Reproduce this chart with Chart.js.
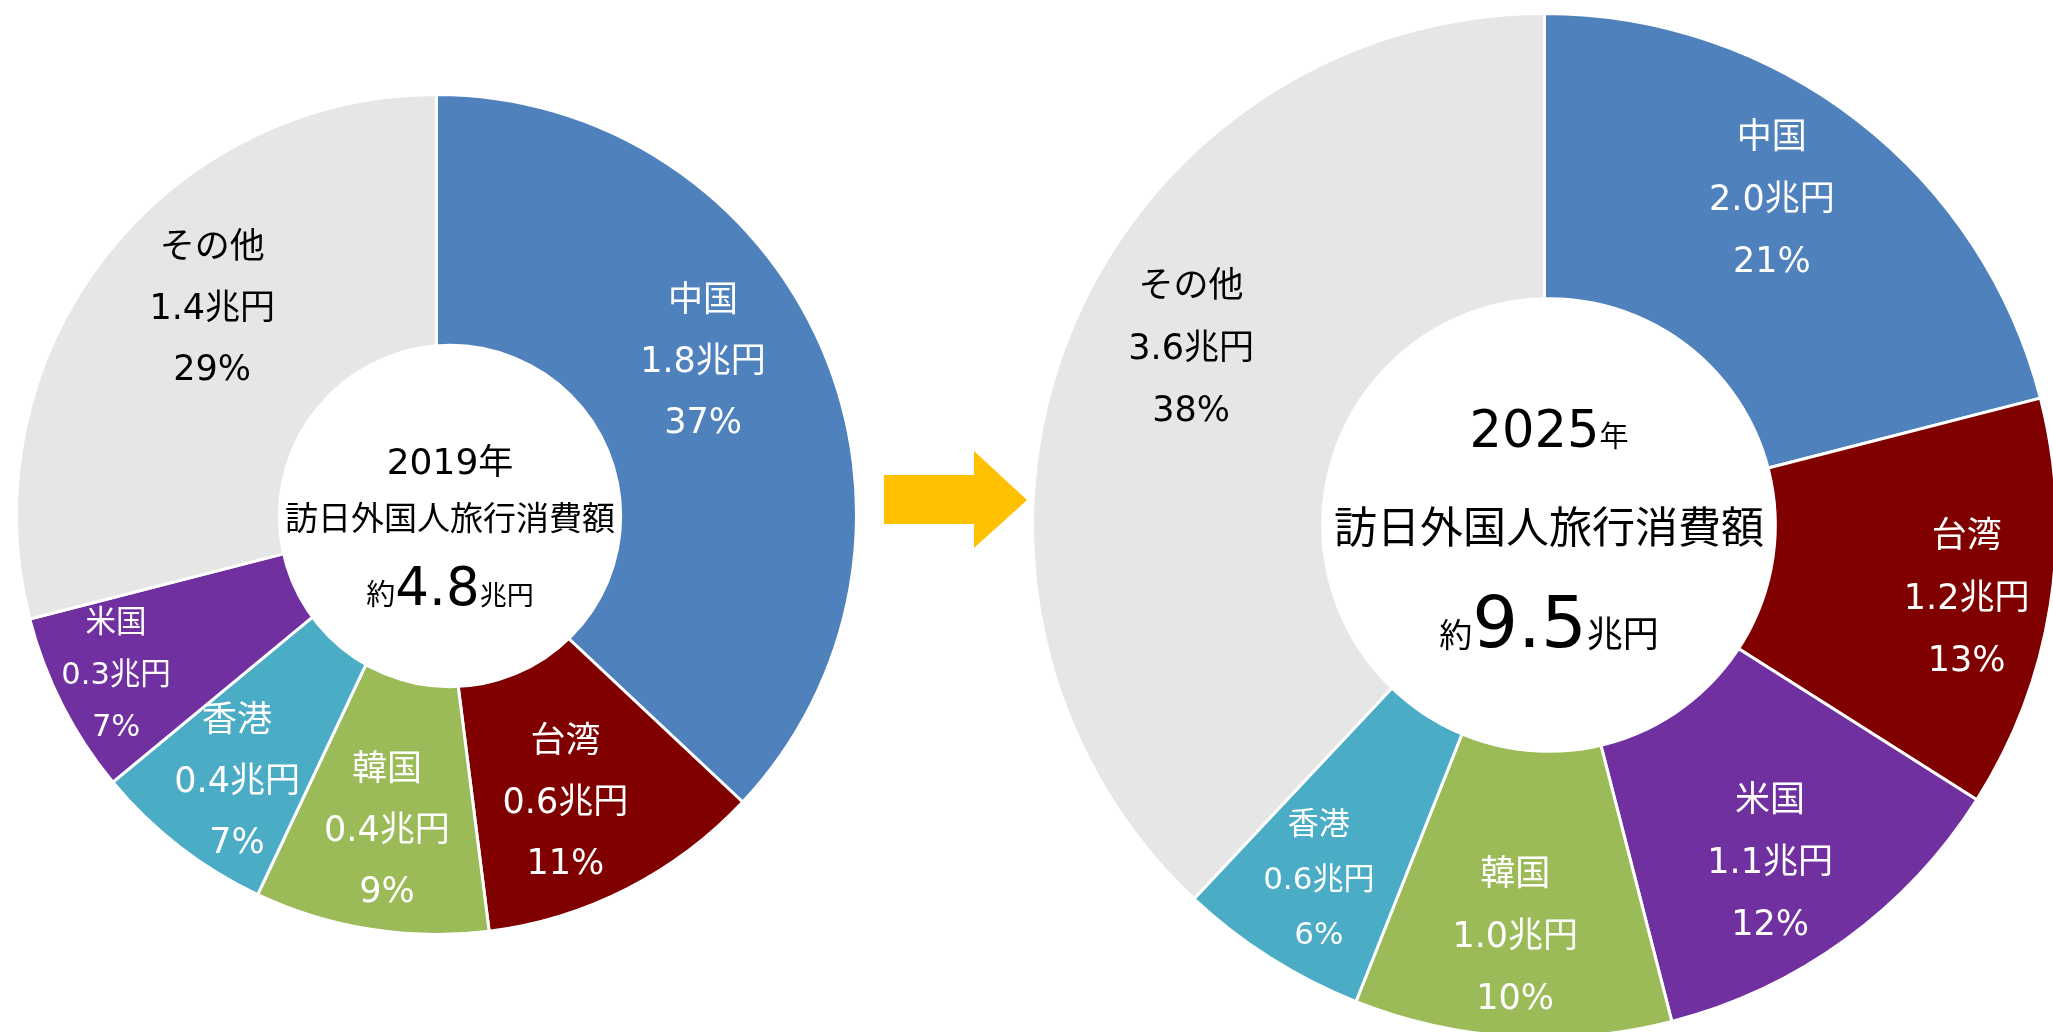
<!DOCTYPE html>
<html lang="ja">
<head>
<meta charset="utf-8">
<title>訪日外国人旅行消費額 2019年 → 2025年</title>
<script src="https://cdn.jsdelivr.net/npm/chart.js@4.4.1/dist/chart.umd.min.js"></script>
<style>
  html, body { margin: 0; padding: 0; background: #fff; }
  body { width: 2053px; height: 1032px; position: relative; overflow: hidden; }
  canvas { position: absolute; }
  #c2019 { left: 15px; top: 93px; }
  #c2025 { left: 1031px; top: 12px; }
  #arrow { position: absolute; left: 0; top: 0; pointer-events: none; }
</style>
</head>
<body>
<canvas id="c2019" width="843" height="843"></canvas>
<svg id="arrow" width="2053" height="1032">
  <polygon points="884,475 974,475 974,451 1027,500 974,548 974,524 884,524" fill="#FFC000"/>
</svg>
<canvas id="c2025" width="1027" height="1027"></canvas>

<script>
// ---- data ----
const categories2019 = ['中国', '台湾', '韓国', '香港', '米国', 'その他'];
const amounts2019 = [1.8, 0.6, 0.4, 0.4, 0.3, 1.4];   // 兆円
const shares2019 = [37, 11, 9, 7, 7, 29];              // %
const total2019 = 4.8;

const categories2025 = ['中国', '台湾', '米国', '韓国', '香港', 'その他'];
const amounts2025 = [2.0, 1.2, 1.1, 1.0, 0.6, 3.6];
const shares2025 = [21, 13, 12, 10, 6, 38];
const total2025 = 9.5;

// ---- styling ----
const FONT = '"DejaVu Sans", "Noto Sans CJK JP", sans-serif';
const COLORS = {
    '中国': '#4F81BD',
    '台湾': '#800000',
    '韓国': '#9BBB59',
    '香港': '#4BACC6',
    '米国': '#7030A0',
    'その他': '#E6E6E6'
};
const TEXT_COLORS = { 'その他': '#000000' };

// label placement: [angle from 12 o'clock (deg), radius as fraction of outer radius]
const labelLayout2019 = [[59.7, 0.735], [155.7, 0.746], [189, 0.755], [217, 0.789], [243.7, 0.851], [312.9, 0.729]];
const labelLayout2025 = [[34.7, 0.78], [99.5, 0.836], [146, 0.788], [184.1, 0.80], [212.7, 0.816], [296.9, 0.774]];
const labelSize2019 = [35, 35, 35, 35, 30.5, 35];
const lineGap2019 = [61, 61, 61, 61, 52, 61];
const labelSize2025 = [35, 35, 35, 35, 31, 35];
const lineGap2025 = [62, 62, 62, 62, 55, 62];

function drawRuns(ctx, runs, x, baseline) {
    let total = 0;
    runs.forEach(r => {
        ctx.font = r.size + 'px ' + FONT;
        r.w = ctx.measureText(r.text).width;
        total += r.w;
    });
    let px = x - total / 2;
    ctx.textAlign = 'left';
    ctx.textBaseline = 'alphabetic';
    runs.forEach(r => {
        ctx.font = r.size + 'px ' + FONT;
        ctx.fillText(r.text, px, baseline);
        px += r.w;
    });
}

// draws the white centre disc, the centre caption and the slice labels
function donutDecor(cfg) {
    return {
        id: 'donutDecor',
        afterDatasetsDraw(chart) {
            const ctx = chart.ctx;
            const arcs = chart.getDatasetMeta(0).data;
            const cx = arcs[0].x, cy = arcs[0].y, R = arcs[0].outerRadius;
            const hx = cx + cfg.hole.dx, hy = cy + cfg.hole.dy;

            ctx.save();
            ctx.beginPath();
            ctx.arc(hx, hy, R * cfg.hole.r, 0, Math.PI * 2);
            ctx.fillStyle = '#ffffff';
            ctx.fill();

            ctx.fillStyle = '#000000';
            cfg.center.forEach(line => drawRuns(ctx, line.runs, hx, hy + line.dy));

            arcs.forEach((arc, i) => {
                const cat = cfg.categories[i];
                const [deg, frac] = cfg.layout[i];
                const a = deg * Math.PI / 180;
                const x = cx + R * frac * Math.sin(a);
                const y = cy - R * frac * Math.cos(a);
                const size = cfg.sizes[i];
                const gap = cfg.gaps[i];
                const lines = [cat, cfg.amounts[i].toFixed(1) + '兆円', cfg.shares[i] + '%'];
                ctx.fillStyle = TEXT_COLORS[cat] || '#ffffff';
                ctx.font = size + 'px ' + FONT;
                ctx.textAlign = 'center';
                ctx.textBaseline = 'alphabetic';
                lines.forEach((t, k) => {
                    ctx.fillText(t, x, y + (k - 1) * gap + size * 0.37);
                });
            });
            ctx.restore();
        }
    };
}

function makeDonut(id, categories, shares, cutout, decor) {
    return new Chart(document.getElementById(id).getContext('2d'), {
        type: 'doughnut',
        data: {
            labels: categories,
            datasets: [{
                data: shares,
                backgroundColor: categories.map(c => COLORS[c]),
                borderColor: '#ffffff',
                borderWidth: 3,
                hoverBorderWidth: 3,
                hoverOffset: 0
            }]
        },
        options: {
            responsive: false,
            animation: false,
            devicePixelRatio: 1,
            cutout: cutout,
            layout: { padding: 0 },
            plugins: {
                legend: { display: false },
                tooltip: { enabled: false }
            }
        },
        plugins: [decor]
    });
}

makeDonut('c2019', categories2019, shares2019, '36%', donutDecor({
    categories: categories2019, amounts: amounts2019, shares: shares2019,
    layout: labelLayout2019, sizes: labelSize2019, gaps: lineGap2019,
    hole: { dx: 13.5, dy: 1.5, r: 0.41 },
    center: [
        { dy: -42, runs: [{ text: '2019', size: 36 }, { text: '年', size: 35 }] },
        { dy: 14, runs: [{ text: '訪日外国人旅行消費額', size: 33 }] },
        { dy: 89, runs: [{ text: '約', size: 29 }, { text: total2019.toFixed(1), size: 53 }, { text: '兆円', size: 27 }] }
    ]
}));

makeDonut('c2025', categories2025, shares2025, '42%', donutDecor({
    categories: categories2025, amounts: amounts2025, shares: shares2025,
    layout: labelLayout2025, sizes: labelSize2025, gaps: lineGap2025,
    hole: { dx: 4.5, dy: -0.5, r: 0.445 },
    center: [
        { dy: -78, runs: [{ text: '2025', size: 51 }, { text: '年', size: 29 }] },
        { dy: 18, runs: [{ text: '訪日外国人旅行消費額', size: 43 }] },
        { dy: 122, runs: [{ text: '約', size: 33 }, { text: total2025.toFixed(1), size: 72 }, { text: '兆円', size: 36 }] }
    ]
}));
</script>
</body>
</html>
